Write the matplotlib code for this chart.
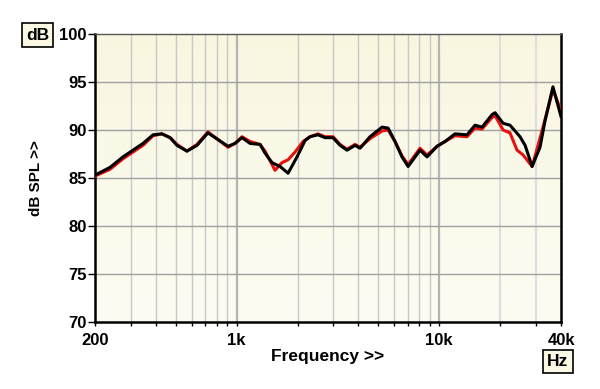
import matplotlib.pyplot as plt
import numpy as np
from matplotlib.colors import LinearSegmentedColormap

plt.rcParams['font.family'] = ['Liberation Sans', 'DejaVu Sans']
plt.rcParams['font.weight'] = 'bold'

# black trace (Hz, dB)
freq_black = [200, 237, 275, 308, 345, 387, 428, 470, 508, 569, 638, 722, 810, 908, 982,
              1064, 1166, 1306, 1382, 1497, 1640, 1796, 1989, 2178, 2306, 2524, 2734,
              2994, 3243, 3510, 3850, 4070, 4560, 5230, 5600, 6060, 6560, 7030, 7440,
              8050, 8720, 9770, 10700, 11980, 13740, 15050, 16300, 18260, 18900, 20700,
              22400, 25100, 26600, 28800, 31500, 33400, 36500, 40000]
db_black = [85.3, 86.1, 87.2, 87.9, 88.6, 89.5, 89.6, 89.2, 88.4, 87.8, 88.4, 89.7, 89.0,
            88.3, 88.6, 89.2, 88.6, 88.5, 87.6, 86.6, 86.2, 85.5, 87.2, 88.9, 89.3, 89.5,
            89.2, 89.2, 88.4, 87.9, 88.4, 88.1, 89.3, 90.3, 90.2, 88.8, 87.2, 86.2, 86.9,
            87.9, 87.2, 88.3, 88.8, 89.6, 89.5, 90.5, 90.3, 91.6, 91.8, 90.7,
            90.5, 89.3, 88.4, 86.2, 88.2, 91.0, 94.5, 91.4]

# red trace (Hz, dB)
freq_red = [200, 237, 275, 308, 345, 387, 428, 470, 508, 569, 638, 722, 810, 908, 982,
            1064, 1166, 1306, 1382, 1497, 1548, 1676, 1796, 1944, 2130, 2306, 2524, 2734,
            2994, 3243, 3510, 3850, 4070, 4560, 5230, 5600, 6060, 6560, 7030, 7440,
            8050, 8720, 9770, 10700, 11980, 13740, 15050, 16300, 18260, 18900, 20700,
            22400, 24270, 26000, 28800, 30800, 32600, 36500, 38700, 40000]
db_red = [85.2, 85.9, 87.0, 87.7, 88.4, 89.4, 89.6, 89.2, 88.5, 87.8, 88.5, 89.8, 89.0,
          88.2, 88.6, 89.3, 88.8, 88.5, 87.8, 86.4, 85.8, 86.6, 86.9, 87.7, 88.8, 89.3,
          89.6, 89.3, 89.3, 88.5, 88.0, 88.5, 88.2, 89.1, 89.9, 90.0, 88.8, 87.3, 86.4,
          87.1, 88.1, 87.4, 88.3, 88.8, 89.4, 89.3, 90.2, 90.1, 91.3, 91.5, 90.0,
          89.7, 87.9, 87.4, 86.2, 88.4, 90.3, 94.2, 92.8, 91.8]

major_f = [200, 1000, 10000, 40000]
major_lab = ['200', '1k', '10k', '40k']
minor_f = [300, 400, 500, 600, 700, 800, 900, 2000, 3000, 4000, 5000, 6000, 7000,
           8000, 9000, 20000, 30000]
y_ticks = [70, 75, 80, 85, 90, 95, 100]

fig = plt.figure(figsize=(6, 3.89), dpi=100)
ax = fig.add_axes([95/600, 67/389, 466/600, 288/389])

# cream background, a bit more yellow at the top
cmap = LinearSegmentedColormap.from_list('bg', ['#fdfcf3', '#f9f6e0'])
ax.imshow(np.linspace(0, 1, 100).reshape(-1, 1), cmap=cmap, aspect='auto',
          extent=[200, 40000, 70, 100], origin='lower', zorder=0)

ax.set_xscale('log')
ax.set_xlim(200, 40000)
ax.set_ylim(70, 100)

for f in minor_f:
    c = '#dedede' if f >= 20000 else '#c8c8c8'
    ax.axvline(f, color=c, lw=1.0 if f < 20000 else 1.5, zorder=1)
for f in [1000, 10000]:
    ax.axvline(f, color='#b4b4b4', lw=1.6, zorder=1)
for y in y_ticks[1:-1]:
    ax.axhline(y, color='#a0a0a0', lw=1.0, zorder=1)

ax.plot(freq_red, db_red, color='#e8100c', lw=2.2, zorder=3, solid_joinstyle='round')
ax.plot(freq_black, db_black, color='black', lw=2.2, zorder=4, solid_joinstyle='round')

ax.set_xticks(major_f)
ax.set_xticklabels(major_lab)
ax.set_xticks(minor_f, minor=True)
ax.xaxis.set_minor_formatter(plt.NullFormatter())
ax.set_yticks(y_ticks)
ax.tick_params(axis='x', which='both', length=3, width=1, direction='out',
               labelsize=12, pad=5)
ax.tick_params(axis='y', length=5, width=1, labelsize=12, pad=1)

for s in ['left', 'bottom', 'right']:
    ax.spines[s].set_linewidth(1.8)
ax.spines['top'].set_linewidth(1.0)
ax.spines['top'].set_color('#555555')

ax.set_xlabel('Frequency >>', fontsize=12.5, fontweight='bold', labelpad=1)
ax.set_ylabel('dB SPL >>', fontsize=11, fontweight='bold', labelpad=12)

box = dict(boxstyle='square,pad=0.25', fc='#fbf9e4', ec='black', lw=1.2)
fig.text(37.5/600, 1 - 35/389, 'dB', fontsize=12.5, fontweight='bold',
         ha='center', va='center', bbox=box)
fig.text(558/600, 1 - 361.5/389, 'Hz', fontsize=12.5, fontweight='bold',
         ha='center', va='center', bbox=box)

plt.savefig('out.png', dpi=100)
